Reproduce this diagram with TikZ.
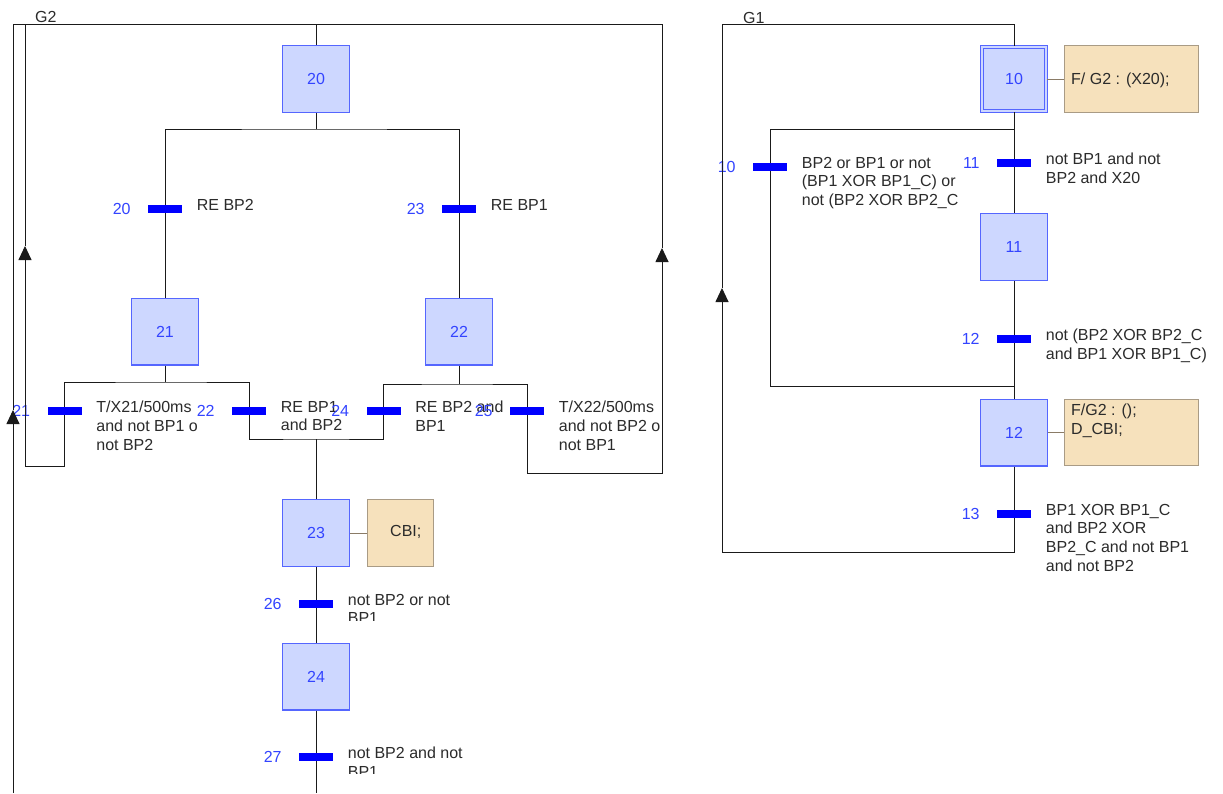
\documentclass[tikz,border=0pt]{standalone}
\usepackage{fontspec}
\setmainfont{Liberation Sans}
\usetikzlibrary{arrows.meta}
\definecolor{stepfill}{HTML}{CDD7FF}
\definecolor{stepdraw}{HTML}{5566FF}
\definecolor{numblue}{HTML}{3344FF}
\definecolor{barblue}{HTML}{0000FF}
\definecolor{actfill}{HTML}{F6E1BC}
\definecolor{actdraw}{HTML}{A99B85}
\definecolor{actlinec}{HTML}{8A7B66}
\definecolor{linec}{HTML}{1A1A1A}
\definecolor{txtc}{HTML}{2B2B2B}
\newcommand\gfont{\fontsize{16}{18.6}\selectfont}
\newcommand\gtrans[4]{%
  \node[tbar] (#1) at (#2) {};
  \node[tnum, anchor=east] (#1n) at ([xshift=-17pt]#1.west) {#3};
  \node[cond] (#1c) at ([xshift=14.5pt,yshift=10pt]#1.east) {#4};
}
\begin{document}
\begin{tikzpicture}[x=1pt,y=-1pt,
  line/.style={draw=linec, line width=0.9pt},
  stepbox/.style={draw=stepdraw, fill=stepfill, line width=1.4pt, minimum width=66.6pt, minimum height=66.6pt, inner sep=0, text=numblue, font=\gfont},
  initstep/.style={stepbox, minimum width=64.5pt, minimum height=64.5pt, line width=1.2pt, double=stepfill, double distance=1.6pt},
  tbar/.style={fill=barblue, minimum width=34pt, minimum height=8pt, inner sep=0},
  tnum/.style={text=numblue, font=\gfont, inner sep=0},
  cond/.style={anchor=north west, align=left, inner sep=0, text=txtc, font=\gfont},
  glabel/.style={anchor=base west, inner sep=0, text=txtc, font=\gfont},
  actbox/.style={draw=actdraw, fill=actfill, line width=1pt, inner sep=0},
  actline/.style={draw=actlinec, line width=0.9pt},
  uparrow/.style={-{Triangle[width=13pt,length=14pt]}}
]
\useasboundingbox[fill=white] (0,0) rectangle (1223,793);

% ---------------- G2 ----------------
\node[glabel] (g2) at (35,22.5) {G2};
\node[stepbox] (s20) at (316,79) {20};
\node[stepbox] (s21) at (165,331.5) {21};
\node[stepbox] (s22) at (459,331.5) {22};
\node[stepbox] (s23) at (316,533) {23};
\node[stepbox] (s24) at (316,676.5) {24};
\node[actbox, minimum width=66pt, minimum height=67pt] (a23) at (400.5,533) {};
\node[glabel] (a23t) at (390,536) {CBI;};
\draw[actline] (s23.east) -- (a23.west);

\gtrans{t20}{165,209}{20}{RE BP2}
\gtrans{t23}{459,209}{23}{RE BP1}
\gtrans{t21}{64.5,411}{21}{T/X21/500ms\\and not BP1 o\\not BP2}
\gtrans{t22}{249,411}{22}{RE BP1\\and BP2}
\gtrans{t24}{383.5,411}{24}{RE BP2 and\\BP1}
\gtrans{t25}{527,411}{25}{T/X22/500ms\\and not BP2 o\\not BP1}

\node[tbar] (t26) at (316,604) {};
\node[tnum, anchor=east] (t26n) at ([xshift=-17pt]t26.west) {26};
\begin{scope}
  \clip (330,580) rectangle (640,620);
  \node[cond] (t26c) at ([xshift=14.5pt,yshift=10pt]t26.east) {not BP2 or not\\BP1};
\end{scope}
\node[tbar] (t27) at (316,757) {};
\node[tnum, anchor=east] (t27n) at ([xshift=-17pt]t27.west) {27};
\begin{scope}
  \clip (330,733) rectangle (640,773);
  \node[cond] (t27c) at ([xshift=14.5pt,yshift=10pt]t27.east) {not BP2 and not\\BP1};
\end{scope}

\coordinate (top20) at (316,24);
\coordinate (d20) at (316,129);
\coordinate (d21) at (165,382);
\coordinate (d22) at (459,384);
\coordinate (j23) at (316,439);
\coordinate (bot) at (316,793);
\coordinate (l21b) at (25,466);
\coordinate (l21tip) at (25,246);
\coordinate (l21top) at (25,24);
\coordinate (l25b) at (662,473);
\coordinate (l25tip) at (662,248);
\coordinate (l25top) at (662,24);
\coordinate (obot) at (13,793);
\coordinate (otip) at (13,410);
\coordinate (otop) at (13,24);

\draw[line] (top20) -- (s20.north);
\draw[line] (s20.south) -- (d20);
\draw[line] (t20.north) |- (d20) -| (t23.north);
\draw[line] (t20.south) -- (s21.north);
\draw[line] (t23.south) -- (s22.north);
\draw[line] (s21.south) -- (d21);
\draw[line] (t21.north) |- (d21) -| (t22.north);
\draw[line] (s22.south) -- (d22);
\draw[line] (t24.north) |- (d22) -| (t25.north);
\draw[line] (t22.south) |- (j23) -| (t24.south);
\draw[line] (j23) -- (s23.north);
\draw[line] (s23.south) -- (t26.north);
\draw[line] (t26.south) -- (s24.north);
\draw[line] (s24.south) -- (t27.north);
\draw[line] (t27.south) -- (bot);
\draw[line, uparrow] (t21.south) |- (l21b) -- (l21tip);
\draw[line] (l21tip) -- (l21top) -- (top20);
\draw[line, uparrow] (t25.south) |- (l25b) -- (l25tip);
\draw[line] (l25tip) -- (l25top) -- (top20);
\draw[line, uparrow] (obot) -- (otip);
\draw[line] (otip) -- (otop) -- (top20);

% ---------------- G1 ----------------
\node[glabel] (g1) at (743,23) {G1};
\node[initstep] (r10) at (1014,79) {10};
\node[actbox, minimum width=134pt, minimum height=67pt] (ra10) at (1131.5,79) {};
\node[cond] (ra10t) at (1071,73) {F/ G2 : (X20);};
\draw[actline] (r10.east) -- (ra10.west);
\node[stepbox] (r11) at (1014,247) {11};
\node[stepbox] (r12) at (1014,432.5) {12};
\node[actbox, minimum width=134pt, minimum height=66pt] (ra12) at (1131.5,432.5) {};
\node[cond] (ra12t) at (1071,404) {F/G2 : ();\\D\_CBI;};
\draw[actline] (r12.east) -- (ra12.west);

\gtrans{rt10}{770,167}{10}{BP2 or BP1 or not\\(BP1 XOR BP1\_C) or\\not (BP2 XOR BP2\_C}
\gtrans{rt11}{1014,163}{11}{not BP1 and not\\BP2 and X20}
\gtrans{rt12}{1014,339}{12}{not (BP2 XOR BP2\_C\\and BP1 XOR BP1\_C)}
\gtrans{rt13}{1014,514}{13}{BP1 XOR BP1\_C\\and BP2 XOR\\BP2\_C and not BP1\\and not BP2}

\coordinate (rtop) at (1014,24);
\coordinate (rtopl) at (722,24);
\coordinate (rd10) at (1014,129);
\coordinate (rj12) at (1014,386);
\coordinate (rbotl) at (722,552);
\coordinate (rtip) at (722,288);

\draw[line] (rtop) -- (r10.north);
\draw[line] (r10.south) -- (rd10) -- (rt11.north);
\draw[line] (rd10) -| (rt10.north);
\draw[line] (rt11.south) -- (r11.north);
\draw[line] (r11.south) -- (rt12.north);
\draw[line] (rt12.south) -- (rj12) -- (r12.north);
\draw[line] (rt10.south) |- (rj12);
\draw[line] (r12.south) -- (rt13.north);
\draw[line, uparrow] (rt13.south) |- (rbotl) -- (rtip);
\draw[line] (rtip) -- (rtopl) -- (rtop);
\end{tikzpicture}
\end{document}
